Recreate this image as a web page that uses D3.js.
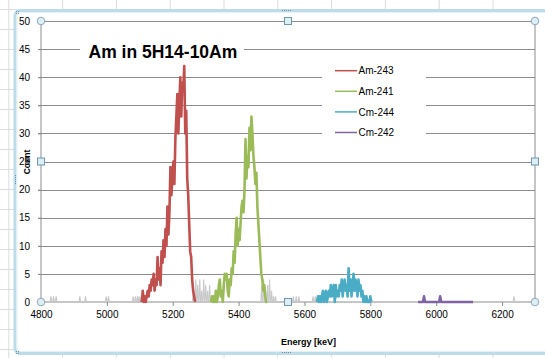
<!DOCTYPE html>
<html><head><meta charset="utf-8">
<script src="https://cdn.jsdelivr.net/npm/d3@7"></script>
<style>
html,body{margin:0;padding:0;background:#fff;}
svg{display:block;}
text{font-family:"Liberation Sans",Arial,sans-serif;}
</style>
</head><body>
<svg id="chart" width="545" height="358"></svg>
<script>
// ---------------- DATA ----------------
const chartTitle = "Am in 5H14-10Am";
const xTitle = "Energy [keV]";
const yTitle = "Count";
const xTickValues = [4800, 5000, 5200, 5400, 5600, 5800, 6000, 6200];
const yTickValues = [0, 5, 10, 15, 20, 25, 30, 35, 40, 45, 50];
const seriesNames = ["Am-243", "Am-241", "Cm-244", "Cm-242"];
const seriesColors = ["#C0504D", "#9BBB59", "#4BACC6", "#8064A2"];

const am243Energy = [5106,5109,5112,5115,5118,5121,5124,5127,5130,5133,5136,5139,5142,5145,5148,5151,5154,5157,5160,5163,5166,5169,5172,5175,5178,5181,5184,5187,5190,5193,5196,5199,5202,5205,5208,5211,5214,5217,5220,5223,5226,5229,5232,5235,5238,5241,5244,5247,5250,5253,5256,5259,5262,5265,5268];
const am243Count = [0,2,0,1,0,1,2,1,3,2,4,3,5,2,4,3,8,4,6,3,9,7,11,8,13,10,17,12,16,24,19,22,25,21,29,33,37,30,35,40,33,39,38,42,30,34,22,19,14,9,8,4,2,1,0];

const am241Energy = [5316,5319,5322,5325,5328,5331,5334,5337,5340,5343,5346,5349,5352,5355,5358,5361,5364,5367,5370,5373,5376,5379,5382,5385,5388,5391,5394,5397,5400,5403,5406,5409,5412,5415,5418,5421,5424,5427,5430,5433,5436,5439,5442,5445,5448,5451,5454,5457,5460,5463,5466,5469,5472,5475,5478,5481,5484,5487];
const am241Count = [0,1,0,1,0,2,0,1,3,4,1,2,0,3,5,4,5,2,1,4,3,6,5,9,7,12,15,10,13,11,14,17,18,16,20,29,22,26,24,31,27,33,30,26,24,21,23,17,14,11,8,5,4,2,3,1,0,0];

const cm244Energy = [5638,5641,5644,5647,5650,5653,5656,5659,5662,5665,5668,5671,5674,5677,5680,5683,5686,5689,5692,5695,5698,5701,5704,5707,5710,5713,5716,5719,5722,5725,5728,5731,5734,5737,5740,5743,5746,5749,5752,5755,5758,5761,5764,5767,5770,5773,5776,5779,5782,5785,5788,5791,5794,5797,5800,5803];
const cm244Count = [0,1,0,1,0,1,2,0,1,2,0,1,2,1,3,1,2,3,0,3,1,2,1,3,2,4,1,3,4,2,3,1,6,2,4,1,3,5,2,4,3,1,4,2,3,1,2,0,1,0,1,0,0,0,1,0];

const cm242Energy = [5945,5960,5963,5966,6009,6012,6015,6112];
const cm242Count = [0,0,1,0,0,1,0,0];

// unlabeled light-grey background spectrum (isolated counts)
const bgEnergy = [4830,4838,4846,4918,4935,4998,5005,5080,5087,5093,5098,5104,5110,5117,5262,5270,5276,5282,5288,5294,5300,5306,5312,5470,5476,5482,5488,5494,5500,5506,5512,5566,5575,5583,5626,5633,6236];
const bgCount  = [1,1,1,1,1,1,1,1,1,1,1,1,1,1,2,4,3,4,2,4,3,2,3,3,4,2,3,4,2,1,1,1,1,1,1,1,1];

// ---------------- DRAW ----------------
const W = 545, H = 358;
const svg = d3.select("#chart");

// spreadsheet background grid
const bg = svg.append("g");
bg.append("rect").attr("width", W).attr("height", H).attr("fill", "#ffffff");
for (let cx = 8.8; cx < W; cx += 53.8) {
  bg.append("line").attr("x1", cx).attr("x2", cx).attr("y1", 0).attr("y2", H)
    .attr("stroke", "#dadcdd").attr("stroke-width", 1);
}
for (let ry = 9.5; ry < H; ry += 20) {
  bg.append("line").attr("x1", 0).attr("x2", W).attr("y1", ry).attr("y2", ry)
    .attr("stroke", "#dadcdd").attr("stroke-width", 1);
}

// chart area frame
svg.append("rect").attr("x", 15).attr("y", 10.5).attr("width", 560).attr("height", 343)
  .attr("rx", 5).attr("fill", "#ffffff").attr("stroke", "#bcdcea").attr("stroke-width", 3);
svg.append("rect").attr("x", 17).attr("y", 12.5).attr("width", 560).attr("height", 339)
  .attr("rx", 4).attr("fill", "none").attr("stroke", "#e4f1f7").attr("stroke-width", 1);

// frame dots
function dots(x0, y0, dx, dy, n) {
  for (let i = 0; i < n; i++) {
    svg.append("rect").attr("x", x0 + i * dx).attr("y", y0 + i * dy).attr("width", 1).attr("height", 1).attr("fill", "#6f8fa3");
  }
}
dots(282, 10, 2, 0, 5); dots(282, 352, 2, 0, 5);
dots(15, 175, 0, 2, 5);
dots(16, 11, 2, 0, 2); dots(16, 13, 2, 0, 2);
dots(16, 351, 2, 0, 2); dots(16, 353, 2, 0, 2);

const x = d3.scaleLinear().domain([4800, 6300]).range([41, 535]);
const y = d3.scaleLinear().domain([0, 50]).range([302, 21]);

// gridlines
svg.append("g").selectAll("line").data(yTickValues.filter(v => v > 0)).join("line")
  .attr("x1", 38).attr("x2", x(6300))
  .attr("y1", d => Math.round(y(d)) + 0.5).attr("y2", d => Math.round(y(d)) + 0.5)
  .attr("stroke", "#8c8c8c").attr("stroke-width", 1);

// plot area borders (left / right)
svg.append("line").attr("x1", x(4800)).attr("x2", x(4800)).attr("y1", y(50)).attr("y2", y(0))
  .attr("stroke", "#8c8c8c");
svg.append("line").attr("x1", x(6300)).attr("x2", x(6300)).attr("y1", y(50)).attr("y2", y(0))
  .attr("stroke", "#8c8c8c");

// axes
const xAxis = d3.axisBottom(x).tickValues(xTickValues).tickSize(4).tickPadding(5).tickFormat(d3.format("d"));
const gx = svg.append("g").attr("transform", `translate(0,${y(0)})`).call(xAxis);
gx.select(".domain").attr("stroke", "#8c8c8c").attr("d", `M${x(4800)},0H${x(6300)}`);
gx.selectAll(".tick line").attr("stroke", "#8c8c8c");
gx.selectAll(".tick text").attr("fill", "#000").style("font-size", "10px").style("font-family", "Liberation Sans, Arial, sans-serif");

const yAxis = d3.axisLeft(y).tickValues(yTickValues).tickSize(3).tickPadding(8);
const gy = svg.append("g").attr("transform", `translate(${x(4800)},0)`).call(yAxis);
gy.select(".domain").remove();
gy.selectAll(".tick line").attr("stroke", "#8c8c8c");
gy.selectAll(".tick text").attr("fill", "#000").style("font-size", "10px").style("font-family", "Liberation Sans, Arial, sans-serif");

// background grey spectrum spikes
const bgPts = bgEnergy.map((e, i) => ({ e, c: bgCount[i] }));
svg.append("g").selectAll("path").data(bgPts).join("path")
  .attr("d", d => `M${x(d.e) - 0.8},${y(0)}L${x(d.e)},${y(d.c)}L${x(d.e) + 0.8},${y(0)}`)
  .attr("fill", "none").attr("stroke", "#c8c8c8").attr("stroke-width", 1.1);

// series
const seriesData = [
  am243Energy.map((e, i) => [e, am243Count[i]]),
  am241Energy.map((e, i) => [e, am241Count[i]]),
  cm244Energy.map((e, i) => [e, cm244Count[i]]),
  cm242Energy.map((e, i) => [e, cm242Count[i]])
];
const line = d3.line().x(d => x(d[0])).y(d => y(d[1]));
svg.append("g").selectAll("path").data(seriesData).join("path")
  .attr("d", line)
  .attr("fill", "none")
  .attr("stroke", (d, i) => seriesColors[i])
  .attr("stroke-width", 2.6)
  .attr("stroke-linejoin", "round");

// title with white box
svg.append("rect").attr("x", 80).attr("y", 41).attr("width", 164).attr("height", 19).attr("fill", "#fff");
svg.append("text").attr("x", 88.5).attr("y", 57.5).text(chartTitle)
  .style("font-size", "17.5px").style("font-weight", "bold").attr("fill", "#000");

// legend
svg.append("rect").attr("x", 322).attr("y", 62).attr("width", 104).attr("height", 84).attr("fill", "#fff");
const legendY = [70.7, 91.3, 111.9, 132.5];
const lg = svg.append("g").selectAll("g").data(seriesNames).join("g")
  .attr("transform", (d, i) => `translate(0,${legendY[i]})`);
lg.append("line").attr("x1", 335).attr("x2", 357).attr("y1", 0).attr("y2", 0)
  .attr("stroke", (d, i) => seriesColors[i]).attr("stroke-width", 1.5);
lg.append("text").attr("x", 358.5).attr("y", 3.6).text(d => d)
  .style("font-size", "10px").attr("fill", "#000");

// axis titles
svg.append("text").attr("x", 308.6).attr("y", 345.2).attr("text-anchor", "middle").text(xTitle)
  .style("font-size", "9px").style("font-weight", "bold");
svg.append("text").attr("transform", "translate(30,162) rotate(-90)").attr("text-anchor", "middle").text(yTitle)
  .style("font-size", "8.5px").style("font-weight", "bold");

// selection handles
const hx = [x(4800), (x(4800) + x(6300)) / 2, x(6300)];
const hy = [y(50), (y(50) + y(0)) / 2, y(0)];
const handles = [];
hx.forEach((px, i) => hy.forEach((py, j) => {
  if (i === 1 && j === 1) return;
  handles.push({ px, py, corner: i !== 1 && j !== 1 });
}));
svg.append("g").selectAll("circle").data(handles.filter(h => h.corner)).join("circle")
  .attr("cx", d => d.px).attr("cy", d => d.py).attr("r", 3.8)
  .attr("fill", "#deeef5").attr("stroke", "#8da9bb").attr("stroke-width", 1);
svg.append("g").selectAll("rect").data(handles.filter(h => !h.corner)).join("rect")
  .attr("x", d => d.px - 3.5).attr("y", d => d.py - 3.5).attr("width", 7).attr("height", 7)
  .attr("fill", "#deeef5").attr("stroke", "#6f97b0").attr("stroke-width", 1);
</script>
</body></html>
